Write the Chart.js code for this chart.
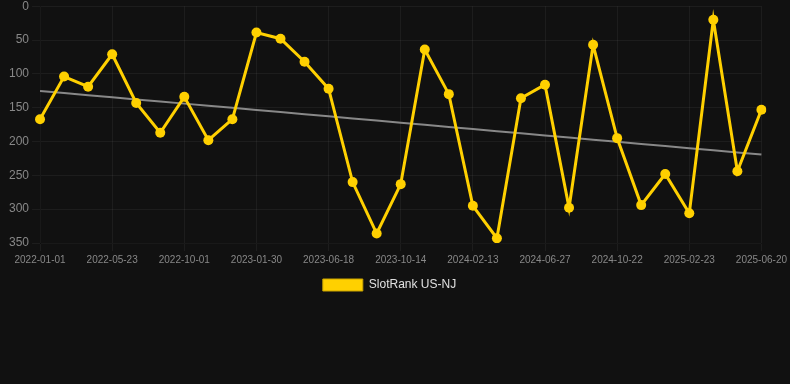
<!DOCTYPE html>
<html>
<head>
<meta charset="utf-8">
<script src="https://cdn.jsdelivr.net/npm/chart.js@4.4.1/dist/chart.umd.min.js"></script>
<style>
    html, body { margin: 0; padding: 0; background: #111111; overflow: hidden; }
    #wrap { width: 790px; height: 305px; position: relative; margin-top: -4px; }
</style>
</head>
<body>
<div id="wrap"><canvas id="rankChart"></canvas></div>
<script>
// dates (only every 3rd one is shown on the axis)
const dates = [
    '2022-01-01', '2022-02-17', '2022-04-05', '2022-05-23', '2022-06-05', '2022-08-18',
    '2022-10-01', '2022-11-10', '2022-12-20', '2023-01-30', '2023-03-15', '2023-05-02',
    '2023-06-18', '2023-07-28', '2023-09-05', '2023-10-14', '2023-11-23', '2024-01-03',
    '2024-02-13', '2024-03-28', '2024-05-12', '2024-06-27', '2024-08-05', '2024-09-13',
    '2024-10-22', '2024-12-01', '2025-01-12', '2025-02-23', '2025-04-05', '2025-05-13',
    '2025-06-20'
];
const rankNJ = [
    167, 104, 119, 71, 143, 187, 134, 198, 167, 39,
    48, 82, 122, 260, 336, 263, 64, 130, 295, 343,
    136, 116, 298, 57, 195, 294, 248, 306, 20, 244,
    153
];
const yTicks = [0, 50, 100, 150, 200, 250, 300, 350];

// least squares trend over the series
function trendLine(values) {
    const n = values.length;
    let sx = 0, sy = 0, sxy = 0, sxx = 0;
    values.forEach((v, i) => { sx += i; sy += v; sxy += i * v; sxx += i * i; });
    const slope = (n * sxy - sx * sy) / (n * sxx - sx * sx);
    const icpt = (sy - slope * sx) / n;
    return values.map((_, i) => icpt + slope * i);
}

const ctx = document.getElementById('rankChart').getContext('2d');
new Chart(ctx, {
    type: 'line',
    data: {
        labels: dates,
        datasets: [{
            label: 'SlotRank US-NJ',
            data: rankNJ,
            borderColor: '#ffd000',
            backgroundColor: '#ffd000',
            borderWidth: 3,
            pointRadius: 5,
            pointHoverRadius: 5,
            pointBorderWidth: 0,
            tension: 0
        }, {
            label: 'trend',
            data: trendLine(rankNJ),
            borderColor: '#888888',
            borderWidth: 2,
            pointRadius: 0,
            fill: false
        }]
    },
    options: {
        responsive: true,
        maintainAspectRatio: false,
        animation: false,
        layout: { padding: { right: 11 } },
        plugins: {
            legend: {
                position: 'bottom',
                labels: {
                    color: '#e0e0e0',
                    font: { size: 12, family: 'Liberation Sans, Arial, sans-serif' },
                    filter: item => item.datasetIndex === 0,
                    generateLabels: chart => {
                        const items = Chart.defaults.plugins.legend.labels.generateLabels(chart);
                        items.forEach(it => { it.lineWidth = 1; it.strokeStyle = '#c9a400'; });
                        return items;
                    }
                }
            },
            tooltip: { enabled: false }
        },
        scales: {
            x: {
                grid: { color: 'rgba(255,255,255,0.05)' },
                ticks: {
                    color: '#888888',
                    maxRotation: 0,
                    autoSkip: true,
                    font: { size: 10, family: 'Liberation Sans, Arial, sans-serif' }
                }
            },
            y: {
                reverse: true,
                min: 0,
                max: 350,
                afterBuildTicks: scale => { scale.ticks = yTicks.map(v => ({ value: v })); },
                afterFit: scale => { scale.width += 6; },
                grid: { color: 'rgba(255,255,255,0.05)' },
                ticks: {
                    color: '#888888',
                    font: { size: 12, family: 'Liberation Sans, Arial, sans-serif' }
                }
            }
        }
    }
});
</script>
</body>
</html>
